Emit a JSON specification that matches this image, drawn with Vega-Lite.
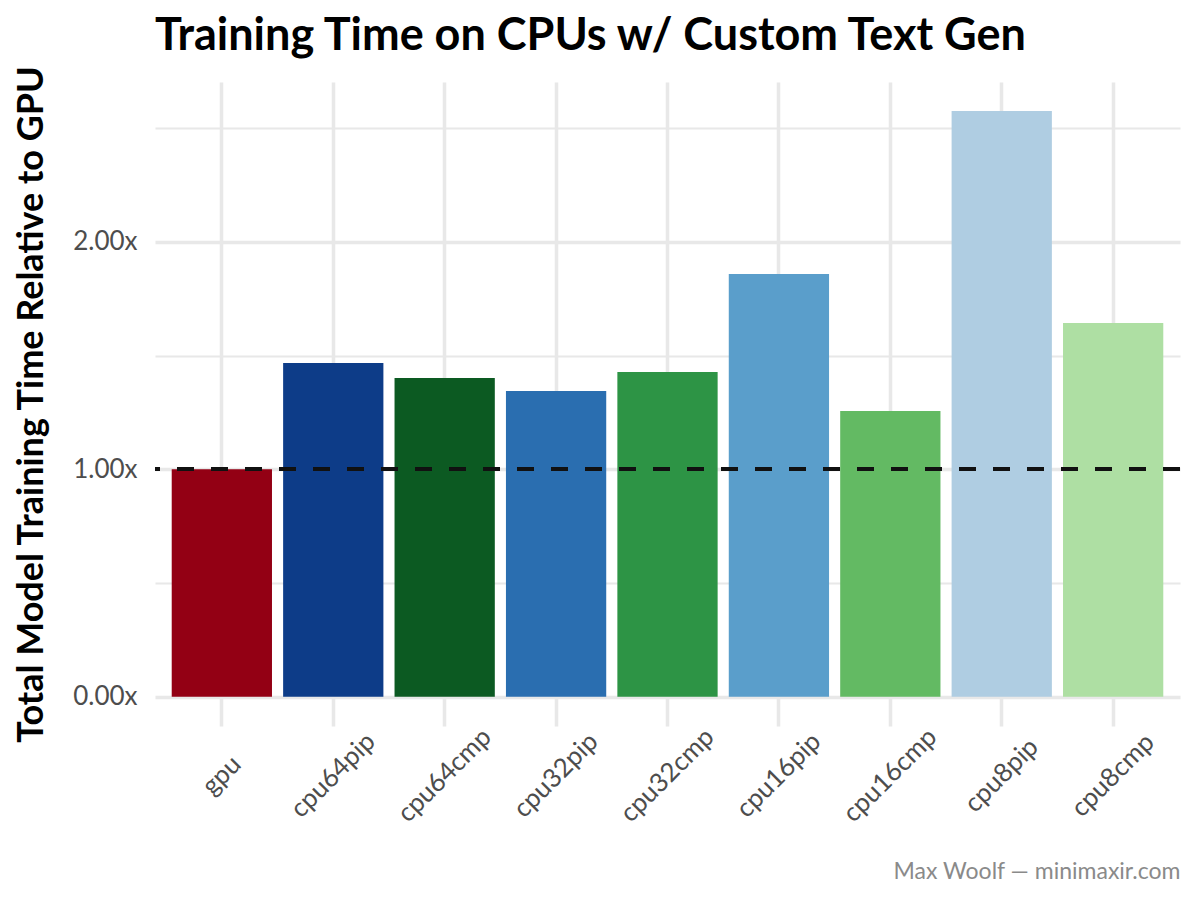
{
  "$schema": "https://vega.github.io/schema/vega-lite/v6.json",
  "width": 1025,
  "height": 644,
  "autosize": {"type": "none"},
  "padding": {"left": 155, "top": 82, "right": 20, "bottom": 174},
  "background": "white",
  "title": {
    "text": "Training Time on CPUs w/ Custom Text Gen",
    "anchor": "start",
    "frame": "group",
    "font": "Lato",
    "fontSize": 45,
    "fontWeight": "bold",
    "color": "#000000",
    "offset": 15,
    "dy": 9
  },
  "config": {
    "view": {"stroke": null},
    "font": "Lato"
  },
  "data": {
    "values": [
      {"model": "gpu", "relative": 1.0},
      {"model": "cpu64pip", "relative": 1.467},
      {"model": "cpu64cmp", "relative": 1.401},
      {"model": "cpu32pip", "relative": 1.344},
      {"model": "cpu32cmp", "relative": 1.428},
      {"model": "cpu16pip", "relative": 1.859},
      {"model": "cpu16cmp", "relative": 1.256},
      {"model": "cpu8pip", "relative": 2.576},
      {"model": "cpu8cmp", "relative": 1.643}
    ]
  },
  "layer": [
    {
      "mark": {"type": "bar"},
      "encoding": {
        "x": {
          "field": "model",
          "type": "nominal",
          "sort": null,
          "scale": {"paddingInner": 0.1, "paddingOuter": 0.15},
          "axis": {
            "title": "Max Woolf — minimaxir.com",
            "titleAnchor": "end",
            "titleAlign": "right",
            "titleFont": "Lato",
            "titleFontSize": 23,
            "titleFontWeight": "normal",
            "titleColor": "#8a8a8a",
            "titlePadding": 34,
            "labelAngle": -45,
            "labelAlign": "center",
            "labelBaseline": "middle",
            "labelPadding": 49,
            "labelFont": "Lato",
            "labelFontSize": 26,
            "labelColor": "#4d4d4d",
            "ticks": false,
            "tickSize": 0,
            "domain": false,
            "grid": true,
            "gridColor": "#e8e8e8",
            "gridWidth": 3.5,
            "bandPosition": 0.5
          }
        },
        "y": {
          "field": "relative",
          "type": "quantitative",
          "scale": {"domain": [-0.129, 2.703], "nice": false, "zero": false},
          "axis": {
            "title": "Total Model Training Time Relative to GPU",
            "titleFont": "Lato",
            "titleFontSize": 36,
            "titleFontWeight": "bold",
            "titleColor": "#000000",
            "titlePadding": 22,
            "values": [0, 0.5, 1, 1.5, 2, 2.5],
            "labelExpr": "datum.value % 1 === 0 ? format(datum.value, '.2f') + 'x' : ''",
            "labelFont": "Lato",
            "labelFontSize": 26,
            "labelColor": "#4d4d4d",
            "labelPadding": 18,
            "ticks": false,
            "tickSize": 0,
            "domain": false,
            "grid": true,
            "gridColor": "#e8e8e8",
            "gridWidth": {"condition": {"test": "datum.value % 1 === 0", "value": 3.5}, "value": 2}
          }
        },
        "y2": {"datum": 0},
        "color": {
          "field": "model",
          "type": "nominal",
          "legend": null,
          "scale": {
            "domain": ["gpu", "cpu64pip", "cpu64cmp", "cpu32pip", "cpu32cmp", "cpu16pip", "cpu16cmp", "cpu8pip", "cpu8cmp"],
            "range": ["#930014", "#0d3c88", "#0c5a22", "#2a6eb0", "#2d9445", "#5a9ecb", "#63ba63", "#afcde2", "#aedfa3"]
          }
        }
      }
    },
    {
      "mark": {"type": "rule", "strokeDash": [17, 17], "strokeWidth": 3.5, "color": "#111111"},
      "encoding": {"y": {"datum": 1}}
    }
  ]
}
